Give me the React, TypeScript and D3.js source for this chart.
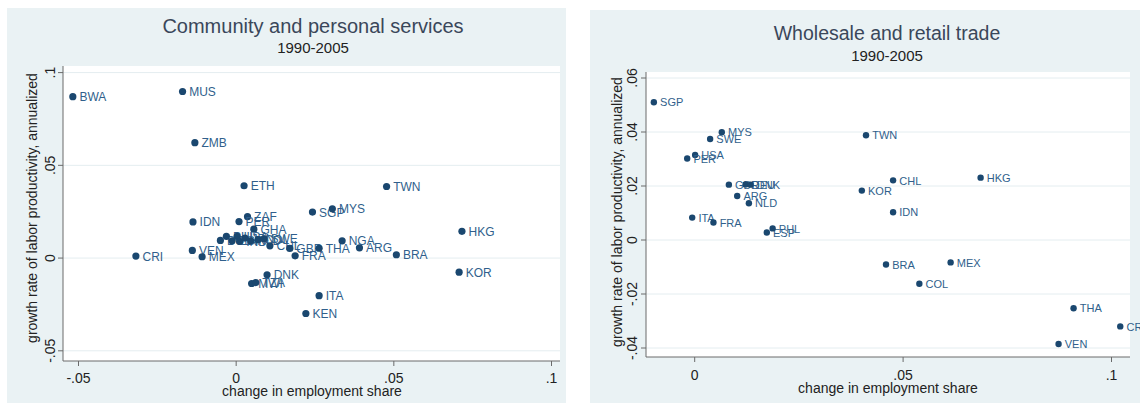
import React from "react";
import * as d3 from "d3";

// Community and personal services, 1990-2005
const servicesCodes = ["BWA", "MUS", "ZMB", "ETH", "TWN", "SGP", "MYS", "IDN", "ZAF", "PER", "GHA", "BOL", "PHL", "ESP", "USA", "IND", "JPN", "NLD", "COL", "SWE", "CHL", "GBR", "FRA", "THA", "NGA", "ARG", "BRA", "HKG", "KOR", "CRI", "VEN", "MEX", "DNK", "MWI", "TZA", "ITA", "KEN"];
const servicesShare = [-0.0518, -0.017, -0.0131, 0.0025, 0.0477, 0.0242, 0.0305, -0.0137, 0.0036, 0.0009, 0.0056, -0.005, -0.0031, -0.0013, 0.0003, 0.0011, 0.0028, 0.0046, 0.0069, 0.0088, 0.0107, 0.017, 0.0187, 0.0263, 0.0336, 0.0391, 0.0508, 0.0716, 0.0707, -0.0318, -0.0139, -0.0108, 0.0098, 0.0049, 0.0062, 0.0263, 0.0221];
const servicesGrowth = [0.087, 0.0898, 0.0622, 0.039, 0.0386, 0.0248, 0.0266, 0.0195, 0.0223, 0.0197, 0.0156, 0.0095, 0.0117, 0.0093, 0.0117, 0.009, 0.0108, 0.0093, 0.0099, 0.0104, 0.0066, 0.0052, 0.0012, 0.0053, 0.0093, 0.0055, 0.0018, 0.0144, -0.0076, 0.0011, 0.0041, 0.0007, -0.009, -0.0137, -0.0132, -0.0203, -0.0299];
const servicesXTicks = [-0.05, 0, 0.05, 0.1];
const servicesYTicks = [-0.05, 0, 0.05, 0.1];

// Wholesale and retail trade, 1990-2005
const tradeCodes = ["SGP", "MYS", "SWE", "USA", "PER", "GBR", "DEU", "DNK", "ARG", "NLD", "ITA", "FRA", "ESP", "PHL", "TWN", "KOR", "CHL", "HKG", "IDN", "BRA", "MEX", "COL", "THA", "CRI", "VEN"];
const tradeShare = [-0.0098, 0.0065, 0.0037, 0.0001, -0.0018, 0.0082, 0.0122, 0.0134, 0.0102, 0.013, -0.0006, 0.0045, 0.0173, 0.0187, 0.0411, 0.0401, 0.0476, 0.0686, 0.0476, 0.0459, 0.0614, 0.0539, 0.0909, 0.1021, 0.0873];
const tradeGrowth = [0.051, 0.0399, 0.0374, 0.0315, 0.0302, 0.0205, 0.0206, 0.0205, 0.0163, 0.0136, 0.0083, 0.0065, 0.0028, 0.0043, 0.0388, 0.0183, 0.0221, 0.0231, 0.0103, -0.0091, -0.0083, -0.0162, -0.0253, -0.032, -0.0385];
const tradeXTicks = [0, 0.05, 0.1];
const tradeYTicks = [-0.04, -0.02, 0, 0.02, 0.04, 0.06];

const FONT = "'Liberation Sans', Arial, Helvetica, sans-serif";
const PANEL_BG = "#eaf2f4";
const GRID = "#e4edf0";
const AXIS = "#6a6a6a";
const MARKER = "#1a476f";
const LABEL = "#305f8c";
const TITLE = "#3a475a";
const TEXT = "#222";

const fmt = (v: number) => {
  if (v === 0) return "0";
  const s = String(+v.toFixed(3));
  return s.replace(/^(-?)0\./, "$1.");
};

type PanelProps = {
  title: string;
  subtitle: string;
  codes: string[];
  xs: number[];
  ys: number[];
  xTicks: number[];
  yTicks: number[];
  bg: { x: number; y: number; w: number; h: number };
  plot: { left: number; right: number; top: number; bottom: number };
  xDomain: [number, number];
  xRange: [number, number];
  yDomain: [number, number];
  yRange: [number, number];
  titleX: number;
  titleY: number;
  subY: number;
  xTickY: number;
  xTitleX: number;
  xTitleY: number;
  yTickX: number;
  yTitleX: number;
  yTitleY: number;
  r: number;
  labelSize: number;
  titleSize: number;
};

function Panel(p: PanelProps) {
  const x = d3.scaleLinear().domain(p.xDomain).range(p.xRange);
  const y = d3.scaleLinear().domain(p.yDomain).range(p.yRange);
  const { left, right, top, bottom } = p.plot;
  return (
    <g fontFamily={FONT}>
      <rect x={p.bg.x} y={p.bg.y} width={p.bg.w} height={p.bg.h} fill={PANEL_BG} />
      <rect x={left} y={top} width={right - left} height={bottom - top} fill="#fff" />
      {p.yTicks.map((t) => (
        <line key={"g" + t} x1={left} x2={right} y1={y(t)} y2={y(t)} stroke={GRID} strokeWidth={1} />
      ))}
      {/* axes */}
      <line x1={left} x2={left} y1={top} y2={bottom} stroke={AXIS} strokeWidth={1} />
      <line x1={left} x2={right} y1={bottom} y2={bottom} stroke={AXIS} strokeWidth={1} />
      {p.yTicks.map((t) => (
        <g key={"yt" + t}>
          <line x1={left - 5} x2={left} y1={y(t)} y2={y(t)} stroke={AXIS} strokeWidth={1} />
          <text
            transform={`translate(${p.yTickX},${y(t)}) rotate(-90)`}
            textAnchor="middle"
            fontSize={14}
            fill={TEXT}
          >
            {fmt(t)}
          </text>
        </g>
      ))}
      {p.xTicks.map((t) => (
        <g key={"xt" + t}>
          <line x1={x(t)} x2={x(t)} y1={bottom} y2={bottom + 5} stroke={AXIS} strokeWidth={1} />
          <text x={x(t)} y={p.xTickY} textAnchor="middle" fontSize={14} fill={TEXT}>
            {fmt(t)}
          </text>
        </g>
      ))}
      <text x={p.xTitleX} y={p.xTitleY} textAnchor="middle" fontSize={14} fill={TEXT}>
        change in employment share
      </text>
      <text
        transform={`translate(${p.yTitleX},${p.yTitleY}) rotate(-90)`}
        textAnchor="middle"
        fontSize={14}
        fill={TEXT}
      >
        growth rate of labor productivity, annualized
      </text>
      <text x={p.titleX} y={p.titleY} textAnchor="middle" fontSize={p.titleSize} fill={TITLE}>
        {p.title}
      </text>
      <text x={p.titleX} y={p.subY} textAnchor="middle" fontSize={15} fill={TEXT}>
        {p.subtitle}
      </text>
      {/* country markers with labels at 3 o'clock */}
      {p.codes.map((c, i) => (
        <g key={c + i}>
          <circle cx={x(p.xs[i])} cy={y(p.ys[i])} r={p.r} fill={MARKER} />
          <text
            x={x(p.xs[i]) + p.r + 3}
            y={y(p.ys[i]) + p.labelSize * 0.38}
            fontSize={p.labelSize}
            fill={LABEL}
          >
            {c}
          </text>
        </g>
      ))}
    </g>
  );
}

export default function App() {
  return (
    <svg
      width={1140}
      height={407}
      style={{ position: "absolute", left: 0, top: 0, background: "#fff" }}
    >
      <Panel
        title="Community and personal services"
        subtitle="1990-2005"
        codes={servicesCodes}
        xs={servicesShare}
        ys={servicesGrowth}
        xTicks={servicesXTicks}
        yTicks={servicesYTicks}
        bg={{ x: 7, y: 8, w: 559, h: 395 }}
        plot={{ left: 63, right: 560, top: 66, bottom: 361 }}
        xDomain={[-0.05, 0.1]}
        xRange={[78.5, 551.5]}
        yDomain={[-0.05, 0.1]}
        yRange={[350.8, 72.6]}
        titleX={313}
        titleY={33}
        subY={53}
        xTickY={383}
        xTitleX={312}
        xTitleY={396}
        yTickX={55}
        yTitleX={37}
        yTitleY={208}
        r={3.6}
        labelSize={12}
        titleSize={20}
      />
      <Panel
        title="Wholesale and retail trade"
        subtitle="1990-2005"
        codes={tradeCodes}
        xs={tradeShare}
        ys={tradeGrowth}
        xTicks={tradeXTicks}
        yTicks={tradeYTicks}
        bg={{ x: 590, y: 10, w: 560, h: 393 }}
        plot={{ left: 646, right: 1130, top: 72, bottom: 357 }}
        xDomain={[0, 0.1]}
        xRange={[694.7, 1111.5]}
        yDomain={[-0.04, 0.06]}
        yRange={[348, 78]}
        titleX={887}
        titleY={40}
        subY={61}
        xTickY={380}
        xTitleX={888}
        xTitleY={393}
        yTickX={637}
        yTitleX={622}
        yTitleY={212}
        r={3.2}
        labelSize={11}
        titleSize={19.5}
      />
    </svg>
  );
}
